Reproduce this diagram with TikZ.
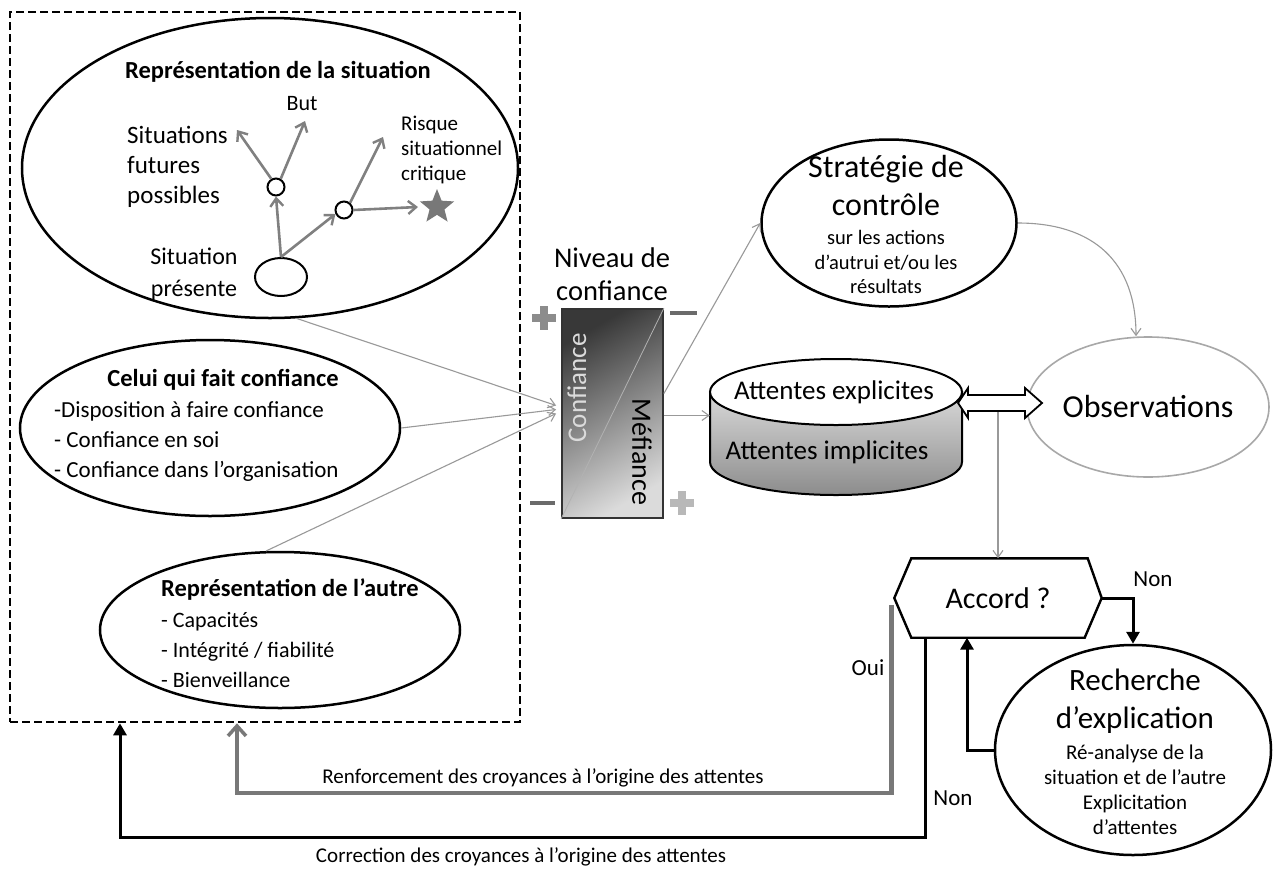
\documentclass[tikz,border=0pt]{standalone}
\usepackage{fontspec}
\setmainfont{Carlito}
\usetikzlibrary{shapes.geometric,arrows.meta,calc}
\newcommand\fsz[2]{\fontsize{#1}{#2}\selectfont}
\definecolor{arrgrey}{gray}{0.5}
\definecolor{thingrey}{gray}{0.6}
\definecolor{ouigrey}{gray}{0.47}
\definecolor{obsgrey}{gray}{0.66}
\definecolor{plusA}{gray}{0.55}
\definecolor{plusB}{gray}{0.72}
\definecolor{minusA}{gray}{0.42}
\definecolor{niveaudark}{gray}{0.22}
\definecolor{niveaulight}{gray}{0.86}
\definecolor{cyllight}{gray}{0.85}
\definecolor{cyldark}{gray}{0.55}
\definecolor{starfill}{gray}{0.47}
\begin{document}
\begin{tikzpicture}[x=1pt,y=-1pt,
  oval/.style={ellipse, draw=black, line width=2.5pt, inner sep=0pt},
  smallcirc/.style={circle, draw=black, line width=2pt, fill=white, minimum size=17pt, inner sep=0pt},
  grayarr/.style={draw=arrgrey, line width=2.6pt, -{Straight Barb[length=8pt,width=13pt,line width=2.4pt]}},
  thinarr/.style={draw=thingrey, line width=1.1pt, -{Straight Barb[length=7pt,width=10pt,line width=1.1pt]}},
  blkarr/.style={draw=black, line width=3pt, -{Triangle[length=12pt,width=13pt]}},
  ouiarr/.style={draw=ouigrey, line width=4.5pt, -{Straight Barb[length=10pt,width=18pt,line width=3.5pt]}},
  lbl/.style={inner sep=1pt},
]
\fill[white] (0,0) rectangle (1280,868);
\useasboundingbox (0,0) rectangle (1280,868);

% dashed frame
\node[draw=black, line width=2.6pt, dash pattern=on 8pt off 4pt, minimum width=510pt, minimum height=710pt, inner sep=0pt] (frame) at (265,367) {};

% situation representation
\node[oval, minimum width=496pt, minimum height=300pt] (sit) at (270,168) {};
\node[lbl, font=\bfseries\fsz{24.5}{29}] (tsit) at (278,72) {Représentation de la situation};
\node[lbl, font=\fsz{22}{26}] (tbut) at (302,104) {But};
\node[lbl, font=\fsz{25}{30}, align=left, anchor=west] (tfut) at (126,167) {Situations\\futures\\possibles};
\node[lbl, font=\fsz{21}{25}, align=left, anchor=west] (trisk) at (400,150) {Risque\\situationnel\\critique};
\node[lbl, font=\fsz{24}{32}, align=center] (tpres) at (194,274) {Situation\\présente};
\node[ellipse, draw=black, line width=2pt, minimum width=52pt, minimum height=38pt, inner sep=0pt] (pres) at (281,277) {};
\node[smallcirc] (c1) at (276,187) {};
\node[smallcirc] (c2) at (344,210) {};
\node[star, star points=5, star point ratio=2.3, fill=starfill, minimum size=36pt, inner sep=0pt] (star) at (437,207) {};
\coordinate (futtip) at (237,130);
\coordinate (buttip) at (305,121);
\coordinate (risktip) at (383,137);
\draw[grayarr] (pres.north) -- (c1.south);
\draw[grayarr] (pres.north) -- (c2.205);
\draw[grayarr] (c1.120) -- (futtip);
\draw[grayarr] (c1.60) -- (buttip);
\draw[grayarr] (c2.50) -- (risktip);
\draw[grayarr] (c2.east) -- ([xshift=-19pt]star.center);

% celui qui fait confiance
\node[oval, minimum width=380pt, minimum height=176pt] (celui) at (210,428) {};
\node[lbl, font=\bfseries\fsz{24.5}{29}] (tcelui) at (223,380) {Celui qui fait confiance};
\node[lbl, font=\fsz{23}{30}, align=left, anchor=west] (tcelui2) at (53,442) {-Disposition à faire confiance\\- Confiance en soi\\- Confiance dans l'organisation};

% representation de l'autre
\node[oval, minimum width=360pt, minimum height=156pt] (autre) at (280,630) {};
\node[lbl, font=\bfseries\fsz{24.5}{29}, anchor=west] (tautre) at (160,590) {Représentation de l'autre};
\node[lbl, font=\fsz{22}{30}, align=left, anchor=west] (tautre2) at (160,650) {- Capacités\\- Intégrité / fiabilité\\- Bienveillance};

% niveau de confiance
\node[lbl, font=\fsz{28.5}{33}, align=center] (tniv) at (612,274) {Niveau de\\confiance};
\node[draw=black!80, line width=1.8pt, minimum width=101pt, minimum height=209pt, inner sep=0pt,
      shading=axis, top color=niveaudark, bottom color=niveaulight, shading angle=30] (niveau) at (612.5,413.5) {};
\draw[gray!60, line width=0.8pt] (niveau.south west) -- (niveau.north east);
\node[lbl, rotate=90, font=\fsz{27}{30}, text=niveaulight] (tconf) at (577,388) {Confiance};
\node[lbl, rotate=-90, font=\fsz{28}{30}] (tmef) at (642,452) {Méfiance};
\fill[plusA] (532,314) rectangle (556,322);
\fill[plusA] (540,306) rectangle (548,330);
\fill[minusA] (670,311) rectangle (697,315);
\fill[minusA] (530,501) rectangle (555,505);
\fill[plusB] (670,499) rectangle (694,507);
\fill[plusB] (678,491) rectangle (686,515);

% inputs to niveau
\draw[thinarr] (sit.-80) -- ([xshift=-5pt,yshift=8pt]niveau.west);
\draw[thinarr] (celui.east) -- ([xshift=-5pt,yshift=4pt]niveau.west);
\draw[thinarr] (autre.100) -- ([xshift=-5pt]niveau.west);

% strategie de controle
\node[oval, minimum width=255pt, minimum height=167pt] (strat) at (889,223) {};
\node[lbl, font=\fsz{32}{38}, align=center] (tstrat) at (886,186) {Stratégie de\\contrôle};
\node[lbl, font=\fsz{20.5}{24.5}, align=center] (tstrat2) at (886,262) {sur les actions\\d'autrui et/ou les\\résultats};

% cylinder
\node[minimum width=252pt, minimum height=137pt, inner sep=0pt] (cyl) at (836,427) {};
\shade[top color=cyllight, bottom color=cyldark, draw=black, line width=2pt]
  (710,392) -- (710,462) arc[start angle=180, end angle=360, x radius=126pt, y radius=33pt] -- (962,392) -- cycle;
\node[ellipse, draw=black, line width=2pt, fill=white, minimum width=252pt, minimum height=66pt, inner sep=0pt] (cyltop) at (836,392) {};
\node[lbl, font=\fsz{27}{32}] (texp) at (834,392) {Attentes explicites};
\node[lbl, font=\fsz{27}{32}] (timp) at (827,452) {Attentes implicites};

\draw[thinarr] ([yshift=20pt]niveau.east) -- (strat.west);
\draw[thinarr] ([yshift=-2pt]niveau.east) -- ([yshift=-2pt]niveau.east -| cyl.west);

% observations
\node[ellipse, draw=obsgrey, line width=1.6pt, minimum width=242pt, minimum height=140pt, inner sep=0pt, font=\fsz{32}{36}] (obs) at (1148,407) {Observations};
\draw[thinarr] (strat.east) .. controls +(75,0) and +(0,-75) .. ([xshift=-12pt]obs.north);

% accord
\node[minimum width=207pt, minimum height=79pt, inner sep=0pt, font=\fsz{30}{36}] (accord) at (998,598) {Accord ?};
\draw[line width=2.4pt, line join=miter] (accord.west) -- ([xshift=17pt]accord.north west) -- ([xshift=-14pt]accord.north east) -- (accord.east) -- ([xshift=-17pt]accord.south east) -- ([xshift=17pt]accord.south west) -- cycle;

% double block arrow between expectations and observations
\coordinate (dblbot) at (998,411);
\draw[thinarr] (dblbot) -- (accord.north);
\draw[draw=black, line width=1.8pt, fill=white, line join=miter]
  (958,403) -- (968,388) -- (968,395) -- (1025,395) -- (1025,388) -- (1042,403)
  -- (1025,418) -- (1025,411) -- (968,411) -- (968,418) -- cycle;

% recherche
\node[oval, minimum width=276pt, minimum height=210pt] (rech) at (1133,750) {};
\node[lbl, font=\fsz{31}{38}, align=center] (trech) at (1135,701) {Recherche\\d'explication};
\node[lbl, font=\fsz{21}{25}, align=center] (trech2) at (1135,790) {Ré-analyse de la\\situation et de l'autre\\Explicitation\\d'attentes};

% loops
\draw[blkarr] (accord.east) -| (rech.north);
\draw[blkarr] (rech.west) -| ([xshift=-31pt]accord.south);
\draw[ouiarr] ([xshift=-3pt,yshift=-7pt]accord.west) -- ++(0,188) -| ([xshift=-28pt]frame.south);
\draw[blkarr] ([xshift=-73pt]accord.south) -- ++(0,200) -| ([xshift=-145pt]frame.south);

\node[lbl, font=\fsz{23}{28}] (lnon1) at (1153,579) {Non};
\node[lbl, font=\fsz{23}{28}] (loui) at (868,668) {Oui};
\node[lbl, font=\fsz{23}{28}] (lnon2) at (953,798) {Non};
\node[lbl, font=\fsz{21}{24}] (lrenf) at (543,778) {Renforcement des croyances à l'origine des attentes};
\node[lbl, font=\fsz{21}{24}] (lcorr) at (521,857) {Correction des croyances à l'origine des attentes};
\end{tikzpicture}
\end{document}
